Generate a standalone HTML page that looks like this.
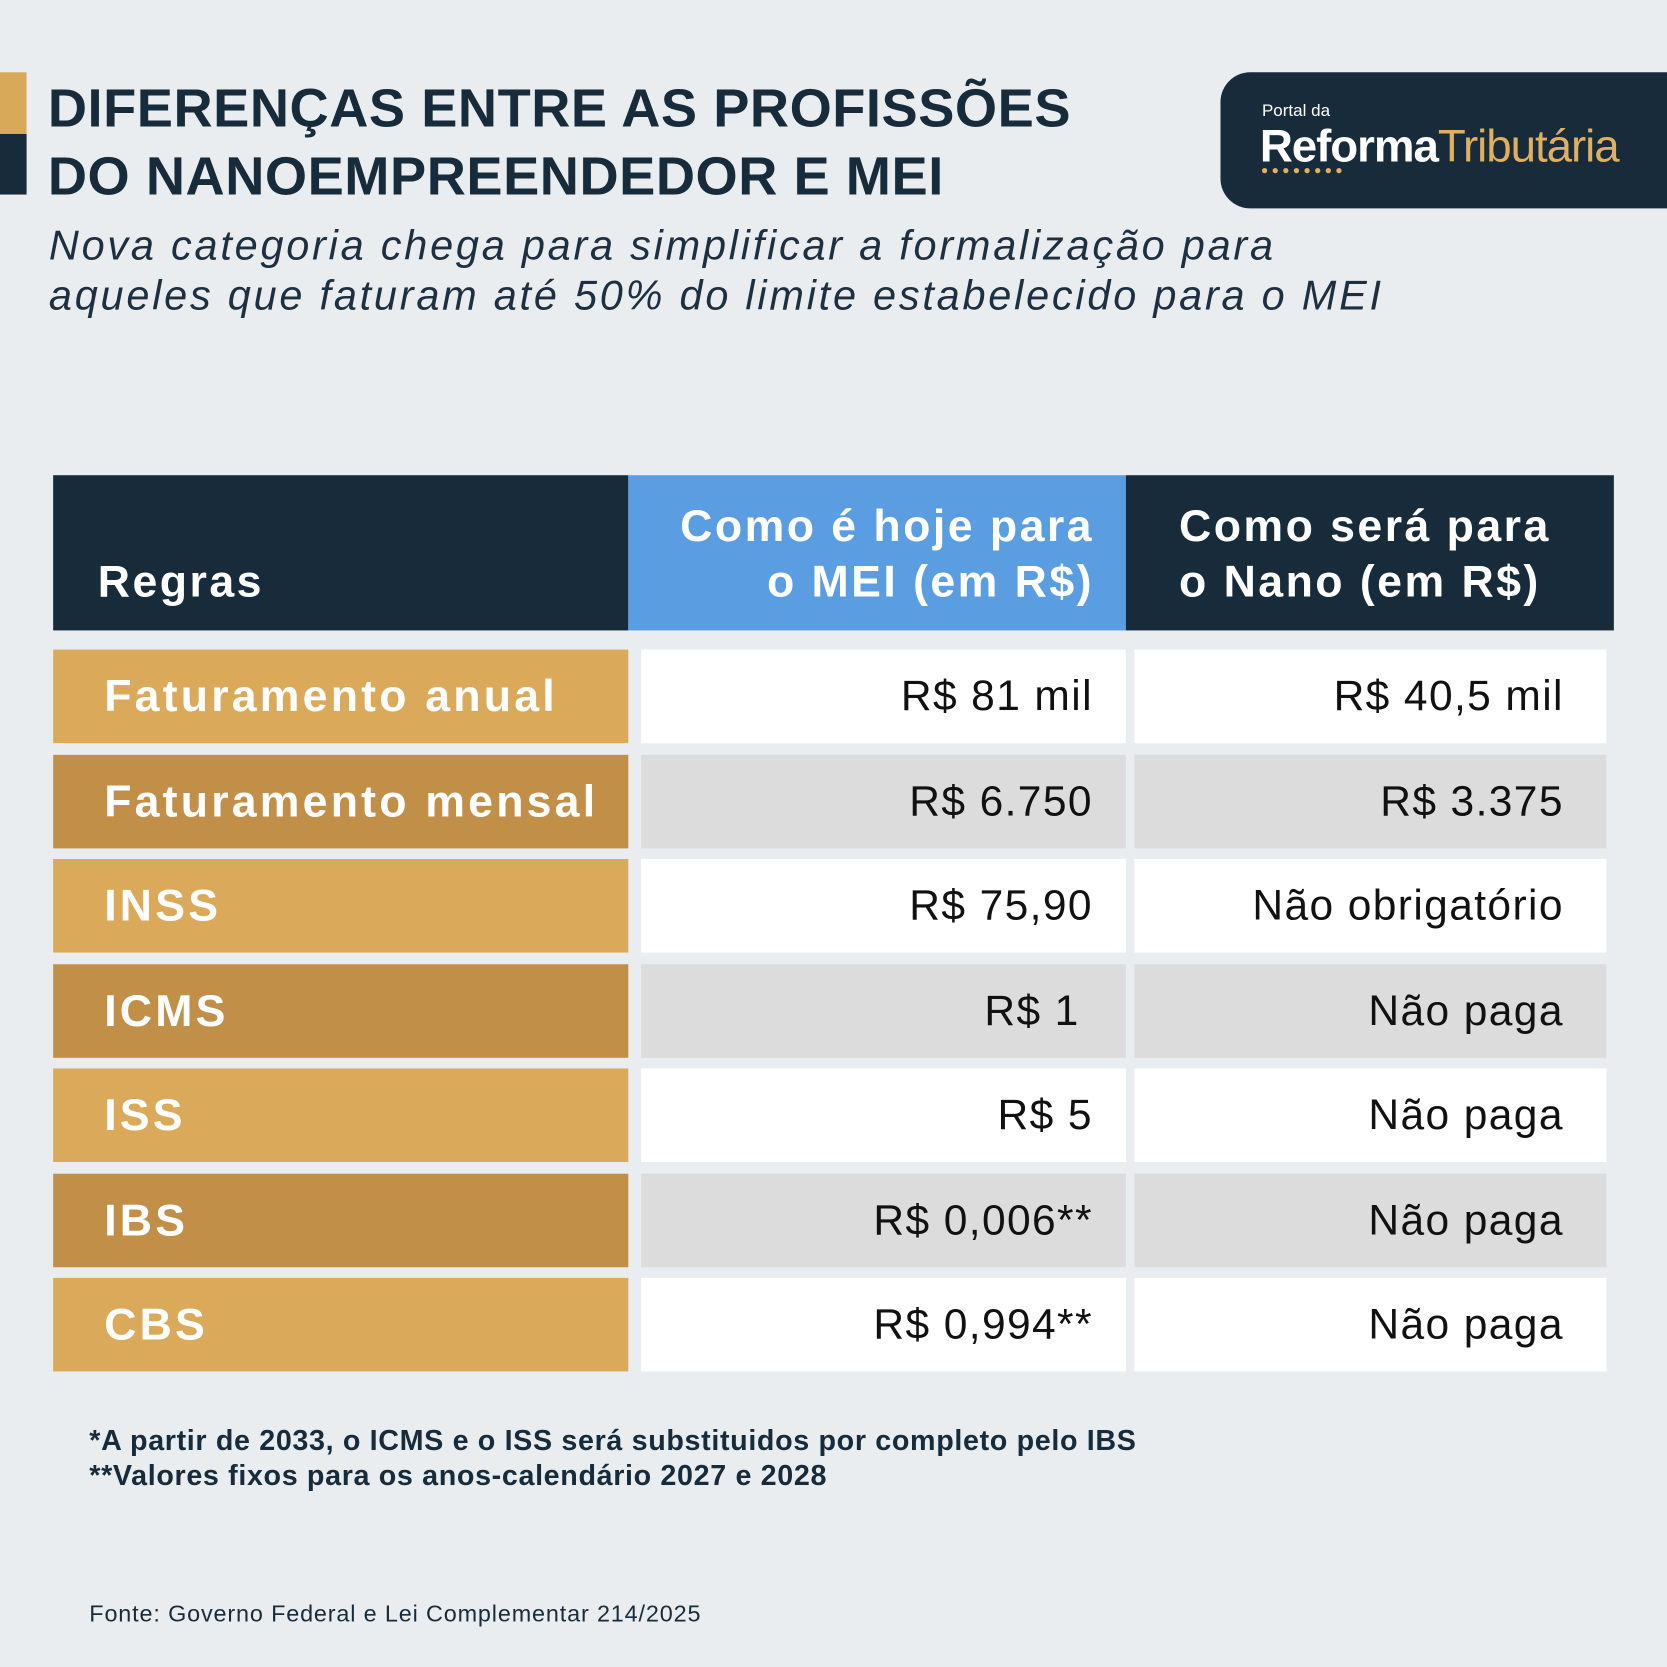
<!DOCTYPE html>
<html><head><meta charset="utf-8"><style>
html,body{margin:0;padding:0;background:#e9edf0;}
#w{width:1568px;height:1568px;position:relative;transform:scale(1.06314);transform-origin:0 0;font-family:"Liberation Sans",sans-serif;overflow:hidden;}
.a{position:absolute;}
.t{left:45px;font-weight:bold;font-size:51px;color:#172b3a;letter-spacing:0.5px;white-space:nowrap;line-height:1;}
.sub{left:46px;font-style:italic;font-size:39px;color:#1e3040;white-space:nowrap;line-height:1;letter-spacing:2.6px;}
.lab{left:50px;width:541px;height:88px;color:#fff;font-weight:bold;font-size:42px;line-height:88px;box-sizing:border-box;padding-left:48px;white-space:nowrap;letter-spacing:3px;}
.v1,.v2{height:88px;font-size:40px;line-height:88px;color:#111;text-align:right;box-sizing:border-box;white-space:nowrap;letter-spacing:1.3px;}
.v1{left:603px;width:456px;padding-right:31px;}
.v2{left:1067px;width:444px;padding-right:40px;}
.h{top:447px;height:146px;color:#fff;font-weight:bold;font-size:42px;line-height:52px;box-sizing:border-box;letter-spacing:2.3px;}
</style></head><body><div id="w">
<div class="a" style="left:0;top:68px;width:25px;height:58px;background:#d9a95a"></div>
<div class="a" style="left:0;top:126px;width:25px;height:57px;background:#172b3a"></div>
<div class="a t" style="top:76px">DIFERENÇAS ENTRE AS PROFISSÕES</div>
<div class="a t" style="top:140px">DO NANOEMPREENDEDOR E MEI</div>
<div class="a sub" style="top:212px">Nova categoria chega para simplificar a formalização para</div>
<div class="a sub" style="top:259px">aqueles que faturam até 50% do limite estabelecido para o MEI</div>
<div class="a" style="left:1148px;top:68px;width:430px;height:128px;background:#172b3a;border-radius:28px 0 0 28px"></div>
<div class="a" style="left:1187px;top:96px;color:#fff;font-size:16px">Portal da</div>
<div class="a" style="left:1185px;top:114px;color:#fff;font-size:43px;white-space:nowrap;letter-spacing:-1px"><b>Reforma</b><span style="color:#e0b060">Tributária</span></div>
<div class="a" style="left:1187px;top:158px;width:75px;height:0;border-top:5px dotted #e0b060"></div>

<div class="a h" style="left:50px;width:541px;background:#172b3a;padding:74px 0 0 42px">Regras</div>
<div class="a h" style="left:591px;width:468px;background:#5a9de0;text-align:right;padding:22px 30px 0 0">Como é hoje para<br>o MEI (em R$)</div>
<div class="a h" style="left:1059px;width:459px;background:#172b3a;padding:22px 0 0 50px">Como será para<br>o Nano (em R$)</div>

<div class="a lab" style="top:611px;background:#dba95a">Faturamento anual</div>
<div class="a v1" style="top:611px;background:#fff">R$ 81 mil</div>
<div class="a v2" style="top:611px;background:#fff">R$ 40,5 mil</div>
<div class="a lab" style="top:710px;background:#c28f48">Faturamento mensal</div>
<div class="a v1" style="top:710px;background:#dcdcdc">R$ 6.750</div>
<div class="a v2" style="top:710px;background:#dcdcdc">R$ 3.375</div>
<div class="a lab" style="top:808px;background:#dba95a">INSS</div>
<div class="a v1" style="top:808px;background:#fff">R$ 75,90</div>
<div class="a v2" style="top:808px;background:#fff">Não obrigatório</div>
<div class="a lab" style="top:907px;background:#c28f48">ICMS</div>
<div class="a v1" style="top:907px;background:#dcdcdc">R$ 1&nbsp;</div>
<div class="a v2" style="top:907px;background:#dcdcdc">Não paga</div>
<div class="a lab" style="top:1005px;background:#dba95a">ISS</div>
<div class="a v1" style="top:1005px;background:#fff">R$ 5</div>
<div class="a v2" style="top:1005px;background:#fff">Não paga</div>
<div class="a lab" style="top:1104px;background:#c28f48">IBS</div>
<div class="a v1" style="top:1104px;background:#dcdcdc">R$ 0,006**</div>
<div class="a v2" style="top:1104px;background:#dcdcdc">Não paga</div>
<div class="a lab" style="top:1202px;background:#dba95a">CBS</div>
<div class="a v1" style="top:1202px;background:#fff">R$ 0,994**</div>
<div class="a v2" style="top:1202px;background:#fff">Não paga</div>

<div class="a" style="left:84px;top:1339px;font-size:27px;font-weight:bold;color:#172b3a;line-height:33px;white-space:nowrap;letter-spacing:0.6px">*A partir de 2033, o ICMS e o ISS será substituidos por completo pelo IBS<br>**Valores fixos para os anos-calendário 2027 e 2028</div>
<div class="a" style="left:84px;top:1505px;font-size:22px;color:#172b3a;white-space:nowrap;letter-spacing:0.8px">Fonte: Governo Federal e Lei Complementar 214/2025</div>
</div></body></html>
